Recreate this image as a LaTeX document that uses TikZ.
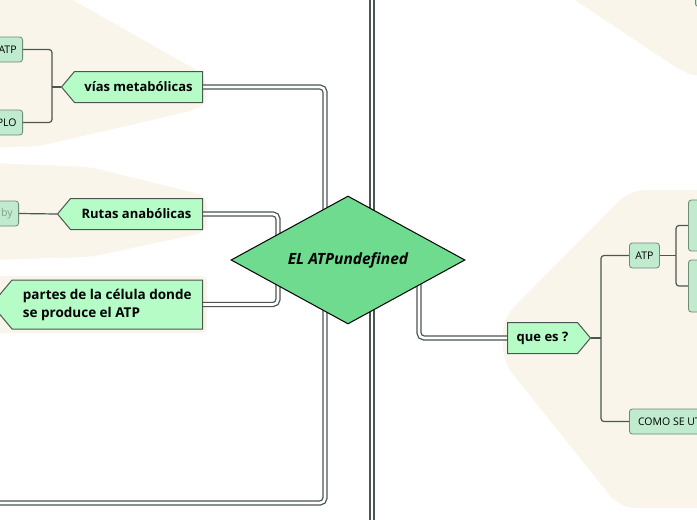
\documentclass[tikz,border=0pt]{standalone}
\usepackage{fontspec}
\setmainfont{Open Sans}
\usetikzlibrary{shapes.geometric,shapes.symbols,backgrounds,positioning}
\pgfdeclarelayer{blobs}
\pgfsetlayers{blobs,background,main}
\definecolor{blobc}{HTML}{FAF5EA}
\definecolor{topicc}{HTML}{B6FCC7}
\definecolor{corec}{HTML}{6FDB8F}
\definecolor{leafc}{HTML}{C0EBCF}
\definecolor{leafedge}{HTML}{6E8A77}
\definecolor{edgec}{HTML}{4B5650}
\definecolor{fadedc}{HTML}{8A9A8F}
\tikzset{
  topic/.style={signal, signal pointer angle=100, draw=edgec, fill=topicc, line width=1pt,
    minimum height=31pt, inner xsep=6pt, font=\bfseries\fontsize{13}{17}\selectfont},
  leaf/.style={rectangle, rounded corners=3pt, draw=leafedge, fill=leafc, line width=0.8pt,
    minimum height=25pt, inner xsep=6pt, font=\fontsize{10.5}{12}\selectfont},
  link/.style={draw=edgec, line width=1.3pt, double=white, double distance=2.6pt, rounded corners=5pt},
  twig/.style={draw=edgec, line width=1.2pt, rounded corners=3pt},
  blob/.style={fill=blobc, rounded corners=10pt}
}
\begin{document}
\begin{tikzpicture}[x=1pt,y=-1pt]
  \useasboundingbox (0,0) rectangle (697,520);
  \clip (0,0) rectangle (697,520);

  % background areas
  \begin{pgfonlayer}{blobs}
    \fill[blob] (-10,-10) -- (55,-10) -- (200,72) -- (207,80) -- (207,102) -- (195,110) -- (40,146) -- (-10,148) -- cycle;
    \fill[blob] (-10,163) -- (90,167) -- (207,196) -- (207,232) -- (90,257) -- (-10,260) -- cycle;
    \fill[blob, rounded corners=5pt] (-10,276) rectangle (207,333);
    \fill[blob, rounded corners=15pt] (720,190) -- (630,190) -- (503,318) -- (503,362) -- (620,508) -- (720,508) -- cycle;
    \fill[blob] (560,-10) -- (683,72) -- (697,76) -- (720,76) -- (720,-10) -- cycle;
  \end{pgfonlayer}

  % central topic
  \node[diamond, aspect=1.8, draw=black, fill=corec, line width=1pt, inner sep=0pt,
        minimum width=234pt, minimum height=128pt,
        font=\bfseries\itshape\fontsize{15.5}{18}\selectfont] (core) at (348,260) {EL ATPundefined};

  % main topics
  \node[topic, signal to=west, anchor=east, minimum width=141pt] (vias) at (203,87) {vías metabólicas};
  \node[topic, signal to=west, anchor=east, minimum width=145pt] (rutas) at (203,214) {Rutas anabólicas};
  \node[topic, signal to=west, anchor=east, minimum width=211pt, minimum height=49pt, align=left,
        font=\bfseries\fontsize{13.5}{18}\selectfont] (partes) at (203,304.5) {partes de la célula donde\\se produce el ATP};
  \node[topic, signal to=east, anchor=west, minimum width=83pt] (quees) at (507,338) {que es ?};

  % subtopics
  \node[leaf, anchor=east] (atpl) at (23,49.5) {ATP};
  \node[leaf, anchor=east] (plo) at (23,122.5) {PLO};
  \node[leaf, anchor=east, text=fadedc] (by) at (19,213.5) {by};
  \node[leaf, anchor=west] (atpr) at (629,255.5) {ATP};
  \node[leaf, anchor=west, minimum width=80pt, align=left] (como) at (629,421.5) {COMO SE UT};
  \node[leaf, anchor=west, minimum width=40pt, minimum height=51pt] (atpa) at (688,225.5) {};
  \node[leaf, anchor=west, minimum width=40pt, minimum height=52pt] (atpb) at (688,286) {};
  \node[leaf, anchor=south west, minimum width=40pt] (corner) at (695,7) {};

  \coordinate (vfork) at (52,87);
  \coordinate (qfork) at (601,338);
  \coordinate (afork) at (676,255.5);
  \coordinate (rfork) at (278,260);
  \coordinate (lowend) at (-10,503);
  \coordinate (ntop) at (372,-10);
  \coordinate (nbot) at (372,530);

  % connectors
  \begin{scope}[on background layer]
    \draw[link] (ntop) -- (nbot);
    \draw[link] (vias.east) -| (325,503) -- (lowend);
    \draw[link] (rutas.east) -| (rfork) |- (partes.east);
    \draw[link] ([xshift=71pt]core.center) |- (quees.west);
    \draw[twig] (vias.west) -- (vfork);
    \draw[twig] (vfork) |- (atpl.east);
    \draw[twig] (vfork) |- (plo.east);
    \draw[twig] (rutas.west) -- (by.east);
    \draw[twig] (quees.east) -- (qfork);
    \draw[twig] (qfork) |- (atpr.west);
    \draw[twig] (qfork) |- (como.west);
    \draw[twig] (atpr.east) -- (afork);
    \draw[twig] (afork) |- (atpa.west);
    \draw[twig] (afork) |- (atpb.west);
  \end{scope}
\end{tikzpicture}
\end{document}
